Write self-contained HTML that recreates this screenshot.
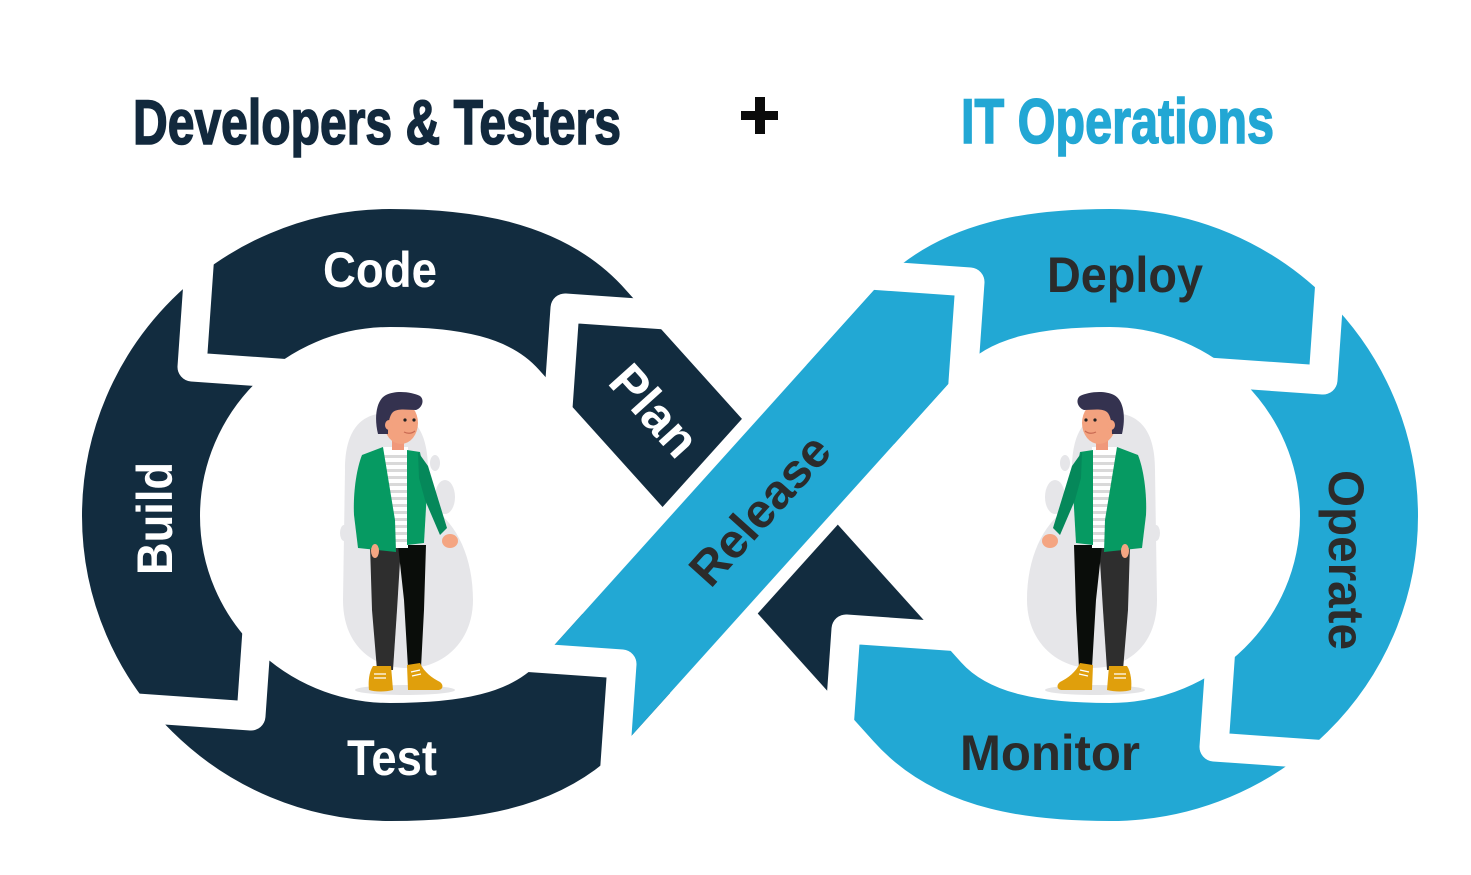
<!DOCTYPE html>
<html><head><meta charset="utf-8"><style>
html,body{margin:0;padding:0;background:#fff;}
svg{display:block;}
text{font-family:"Liberation Sans",Arial,sans-serif;font-weight:bold;}
.ttl{font-family:"Liberation Sans Narrow","Liberation Sans",Arial,sans-serif;font-weight:bold;}
</style></head><body>
<svg width="1471" height="875" viewBox="0 0 1471 875" xmlns="http://www.w3.org/2000/svg">
<defs>
<clipPath id="arrowClip"><polygon points="1045.5,643 846,629 832,828.5 600,828.5 600,380 1045.5,380"/></clipPath>
<clipPath id="relClip"><polygon points="770.5,268 970,282 928,880.6 601,963 622,664 422.5,650 422.5,268"/></clipPath>
<g id="person">
  <path d="M345,470 C345,425 365,413 388,413 C412,413 428,428 428,470 L428,505 C455,520 473,555 473,600 C473,640 445,668 408,668 C372,668 343,645 343,600 Z" fill="#e6e6e9"/>
  <ellipse cx="435" cy="463" rx="5" ry="8" fill="#e6e6e9"/>
  <ellipse cx="445" cy="497" rx="10" ry="17" fill="#e6e6e9"/>
  <ellipse cx="344" cy="533" rx="4" ry="8" fill="#e6e6e9"/>
  <ellipse cx="405" cy="690" rx="50" ry="5" fill="#e4e4e6"/>
  <path d="M370,545 L401,545 L397,610 L393,670 L377,670 L372,610 Z" fill="#2e2e2e"/>
  <path d="M398,545 L426,545 L424,610 L421,668 L408,668 L404,600 Z" fill="#0a0d0a"/>
  <path d="M373,666 L391,666 L393,690 C385,692 375,692 369,690 C368,682 369,672 373,666 Z" fill="#e09f0c"/>
  <path d="M407,665 L420,663 C424,672 432,678 440,682 C444,685 443,690 438,690 L408,690 Z" fill="#e09f0c"/>
  <path d="M374,674 L386,674 M374,678 L386,678 M411,672 L420,670 M412,676 L421,674" stroke="#fff" stroke-width="1.3"/>
  <rect x="383" y="447" width="25" height="101" fill="#ffffff"/>
  <g fill="#d9d9d9">
    <rect x="383" y="455" width="25" height="3"/><rect x="383" y="462" width="25" height="3"/>
    <rect x="383" y="469" width="25" height="3"/><rect x="383" y="476" width="25" height="3"/>
    <rect x="383" y="483" width="25" height="3"/><rect x="383" y="490" width="25" height="3"/>
    <rect x="383" y="497" width="25" height="3"/><rect x="383" y="504" width="25" height="3"/>
    <rect x="383" y="511" width="25" height="3"/><rect x="383" y="518" width="25" height="3"/>
    <rect x="383" y="525" width="25" height="3"/><rect x="383" y="532" width="25" height="3"/>
    <rect x="383" y="539" width="25" height="3"/>
  </g>
  <path d="M383,447 L362,455 C356,470 353,495 354,515 L358,548 L396,552 L395,520 Z" fill="#069a62"/>
  <path d="M407,450 L420,452 L427,490 L424,543 L407,545 Z" fill="#069a62"/>
  <path d="M418,452 L428,466 L447,528 L440,535 L425,500 L419,478 Z" fill="#05885a"/>
  <ellipse cx="450" cy="541" rx="8" ry="7" fill="#f4a582"/>
  <ellipse cx="375" cy="551" rx="4" ry="7" fill="#f4a582"/>
  <rect x="392" y="436" width="12" height="14" fill="#f0987a"/>
  <ellipse cx="401" cy="423" rx="17" ry="21" fill="#f3a27f"/>
  <path d="M378,434 C374,418 376,400 386,395 C396,390 412,392 420,396 C425,400 422,408 416,410 C408,410 398,408 393,412 C389,416 388,424 388,434 Z" fill="#34324f"/>
  <ellipse cx="389" cy="425" rx="4" ry="5" fill="#f3a27f"/>
  <circle cx="405" cy="420" r="1.6" fill="#222"/>
  <circle cx="414" cy="420" r="1.6" fill="#222"/>
  <path d="M404,432 Q410,435 415,431" stroke="#c96a52" stroke-width="1.2" fill="none"/>
</g>
</defs>

<!-- titles -->
<text class="ttl" x="133" y="144" font-size="63" fill="#12293d" stroke="#12293d" stroke-width="1.6" textLength="488" lengthAdjust="spacingAndGlyphs">Developers &amp; Testers</text>
<rect x="741" y="111" width="37" height="9" fill="#0b0b0b"/>
<rect x="755" y="97" width="10" height="37" fill="#0b0b0b"/>
<text class="ttl" x="961" y="143" font-size="63" fill="#22a7d4" stroke="#22a7d4" stroke-width="1.6" textLength="313" lengthAdjust="spacingAndGlyphs">IT Operations</text>

<!-- blue right loop -->
<path d="M723.2 486.3 L917.3 701.8 C963.8 754 1040 762 1110 762 C1247.5 762 1359 651.9 1359 516 C1359 380.1 1247.5 268 1110 268 C1040 268 963.8 277 917.3 330.2 L723.2 545.7" fill="none" stroke="#22a8d4" stroke-width="118"/>
<!-- dark left loop -->
<path d="M776.8 545.7 L582.7 330.2 C536.2 277 460 268 390 268 C252.5 268 141 380.1 141 516 C141 651.9 252.5 762 390 762 C460 762 536.2 754 582.7 701.8 L626.2 653.5" fill="none" stroke="#122c3f" stroke-width="118"/>
<!-- dark arrow (Plan continuation under Release) -->
<path d="M716.5 478.8 L934 720.4" fill="none" stroke="#122c3f" stroke-width="119" clip-path="url(#arrowClip)"/>
<!-- Release band -->
<path d="M649.6 627.5 L850.4 404.5" fill="none" stroke="#fff" stroke-width="142"/>
<path d="M519.1 772.4 L980.8 259.6" fill="none" stroke="#22a8d4" stroke-width="118" clip-path="url(#relClip)"/>

<!-- white L-shaped gaps -->
<g fill="none" stroke="#fff" stroke-width="29" stroke-linejoin="round">
<polyline points="192,240 192,367 310,367" transform="rotate(4 192 367)"/>
<polyline points="690,308 565,308 565,420" transform="rotate(4 565 308)"/>
<polyline points="622,800 622,664 490,664" transform="rotate(4 622 664)"/>
<polyline points="100,716 251,716 251,600" transform="rotate(4 251 716)"/>
<polyline points="850,282 970,282 970,420" transform="rotate(4 970 282)"/>
<polyline points="1323,250 1323,380 1200,380" transform="rotate(4 1323 380)"/>
<polyline points="1350,747 1214,747 1214,640" transform="rotate(4 1214 747)"/>
<polyline points="846,770 846,629 960,629" transform="rotate(4 846 629)"/>
</g>

<!-- labels -->
<text x="323" y="287" font-size="50" fill="#fff" textLength="114" lengthAdjust="spacingAndGlyphs">Code</text>
<text x="347" y="775" font-size="50" fill="#fff" textLength="90" lengthAdjust="spacingAndGlyphs">Test</text>
<text transform="translate(172,575) rotate(-90)" font-size="50" fill="#fff" textLength="113" lengthAdjust="spacingAndGlyphs">Build</text>
<text transform="translate(641.6,422) rotate(48)" font-size="50" fill="#fff" text-anchor="middle" textLength="105" lengthAdjust="spacingAndGlyphs">Plan</text>
<text transform="translate(772,521) rotate(-48)" font-size="48" fill="#2b2b2b" text-anchor="middle" textLength="184" lengthAdjust="spacingAndGlyphs">Release</text>
<text x="1047" y="292" font-size="50" fill="#2b2b2b" textLength="156" lengthAdjust="spacingAndGlyphs">Deploy</text>
<text x="960" y="770" font-size="50" fill="#2b2b2b" textLength="180" lengthAdjust="spacingAndGlyphs">Monitor</text>
<text transform="translate(1329,470) rotate(90)" font-size="50" fill="#2b2b2b" textLength="180" lengthAdjust="spacingAndGlyphs">Operate</text>

<!-- people -->
<use href="#person"/>
<use href="#person" transform="translate(1500,0) scale(-1,1)"/>
</svg>
</body></html>
